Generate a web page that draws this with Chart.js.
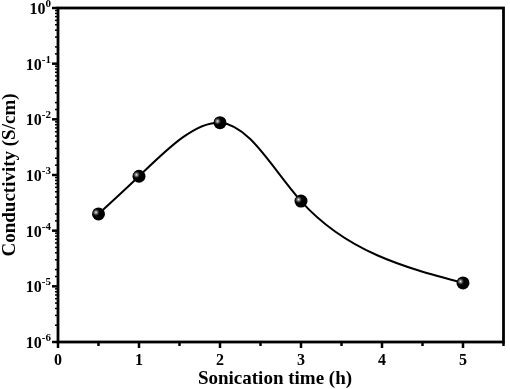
<!DOCTYPE html>
<html>
<head>
<meta charset="utf-8">
<script src="https://cdn.jsdelivr.net/npm/chart.js@4/dist/chart.umd.min.js"></script>
<style>
  html, body { margin: 0; padding: 0; background: #fff; }
  #wrap { width: 510px; height: 389px; }
</style>
</head>
<body>
<div id="wrap"><canvas id="c" width="510" height="389"></canvas></div>
<script>
// sonication time (h) vs conductivity (S/cm)
const times = [0.5, 1, 2, 3, 5];
const conductivity = [2.0e-4, 9.5e-4, 8.7e-3, 3.4e-4, 1.15e-5];
const yTickExponents = [0, -1, -2, -3, -4, -5, -6];
const xTickLabels = ['0', '1', '2', '3', '4', '5'];

const FONT = '"Liberation Serif", "Times New Roman", serif';

// end slopes of a natural cubic spline for each segment
function naturalSlopes(t, v) {
  const n = t.length;
  const h = [], s = [];
  for (let i = 0; i < n - 1; i++) {
    h.push(t[i + 1] - t[i]);
    s.push((v[i + 1] - v[i]) / h[i]);
  }
  const M = new Array(n).fill(0);
  const a = [], b = [], c = [], d = [];
  for (let i = 1; i < n - 1; i++) {
    a.push(h[i - 1]);
    b.push(2 * (h[i - 1] + h[i]));
    c.push(h[i]);
    d.push(6 * (s[i] - s[i - 1]));
  }
  const m = b.length;
  for (let i = 1; i < m; i++) {
    const w = a[i] / b[i - 1];
    b[i] -= w * c[i - 1];
    d[i] -= w * d[i - 1];
  }
  const sol = new Array(m);
  sol[m - 1] = d[m - 1] / b[m - 1];
  for (let i = m - 2; i >= 0; i--) sol[i] = (d[i] - c[i] * sol[i + 1]) / b[i];
  for (let i = 0; i < m; i++) M[i + 1] = sol[i];
  const out = [];
  for (let i = 0; i < n - 1; i++) {
    out.push({
      h: h[i],
      d0: s[i] - h[i] * (2 * M[i] + M[i + 1]) / 6,
      d1: s[i] + h[i] * (M[i] + 2 * M[i + 1]) / 6,
    });
  }
  return out;
}

// parametric spline through the plotted points (the original used a spline connector);
// only the bezier control points of the line element are changed
const splinePlugin = {
  id: 'splinePlugin',
  beforeDatasetsDraw(chart) {
    const meta = chart.getDatasetMeta(0);
    const pts = meta.data;
    const t = [0];
    for (let i = 1; i < pts.length; i++) {
      t.push(t[i - 1] + Math.hypot(pts[i].x - pts[i - 1].x, pts[i].y - pts[i - 1].y));
    }
    const sx = naturalSlopes(t, pts.map((p) => p.x));
    const sy = naturalSlopes(t, pts.map((p) => p.y));
    for (let i = 0; i < pts.length - 1; i++) {
      const h = sx[i].h;
      pts[i].cp2x = pts[i].x + sx[i].d0 * h / 3;
      pts[i].cp2y = pts[i].y + sy[i].d0 * h / 3;
      pts[i + 1].cp1x = pts[i + 1].x - sx[i].d1 * h / 3;
      pts[i + 1].cp1y = pts[i + 1].y - sy[i].d1 * h / 3;
    }
    meta.dataset._pointsUpdated = true;
    meta.dataset._path = undefined;
  },
};

// frame, ticks and tick labels drawn against the chart's own scales
const axesPlugin = {
  id: 'axesPlugin',
  afterDatasetsDraw(chart) {
    const { ctx, chartArea: a, scales } = chart;
    const xs = scales.x;
    const ys = scales.y;
    ctx.save();
    ctx.strokeStyle = '#000';
    ctx.fillStyle = '#000';

    // x ticks, every 0.5 h
    ctx.lineWidth = 2.5;
    xs.ticks.forEach((tk) => {
      const px = xs.getPixelForValue(tk.value);
      const major = Number.isInteger(tk.value);
      ctx.beginPath();
      ctx.moveTo(px, a.bottom);
      ctx.lineTo(px, a.bottom + (major ? 6 : 4));
      ctx.stroke();
    });
    // y ticks on log scale
    ys.ticks.forEach((tk) => {
      const py = ys.getPixelForValue(tk.value);
      const major = Math.abs(Math.log10(tk.value) - Math.round(Math.log10(tk.value))) < 1e-6;
      ctx.lineWidth = major ? 2.5 : 1.5;
      ctx.beginPath();
      ctx.moveTo(a.left, py);
      ctx.lineTo(a.left - (major ? 6 : 3), py);
      ctx.stroke();
    });

    // frame
    ctx.lineWidth = 2.8;
    ctx.strokeRect(a.left, a.top, a.right - a.left, a.bottom - a.top);

    // x labels
    ctx.font = 'bold 16px ' + FONT;
    ctx.textAlign = 'center';
    ctx.textBaseline = 'alphabetic';
    xTickLabels.forEach((lab) => {
      ctx.fillText(lab, xs.getPixelForValue(Number(lab)), a.bottom + 23);
    });

    // y labels, 10 with superscript exponent
    yTickExponents.forEach((e) => {
      const py = ys.getPixelForValue(Math.pow(10, e));
      const exp = String(e);
      ctx.font = 'bold 11px ' + FONT;
      const ew = ctx.measureText(exp).width;
      ctx.textAlign = 'left';
      const right = a.left - 7;
      ctx.fillText(exp, right - ew, py - 1);
      ctx.font = 'bold 16px ' + FONT;
      const bw = ctx.measureText('10').width;
      ctx.fillText('10', right - ew - bw, py + 6);
    });

    // axis titles
    ctx.font = 'bold 19px ' + FONT;
    ctx.textAlign = 'center';
    ctx.textBaseline = 'middle';
    ctx.fillText('Sonication time (h)', 275, 379);
    ctx.translate(10, (a.top + a.bottom) / 2);
    ctx.rotate(-Math.PI / 2);
    ctx.fillText('Conductivity (S/cm)', 0, 0);
    ctx.restore();

    // small highlight on each marker
    const meta = chart.getDatasetMeta(0);
    ctx.save();
    meta.data.forEach((pt) => {
      const g = ctx.createRadialGradient(pt.x - 2.5, pt.y - 1.5, 0, pt.x - 2.5, pt.y - 1.5, 3.5);
      g.addColorStop(0, 'rgba(255,255,255,0.95)');
      g.addColorStop(1, 'rgba(160,160,160,0)');
      ctx.fillStyle = g;
      ctx.beginPath();
      ctx.arc(pt.x - 2.5, pt.y - 1.5, 3.5, 0, Math.PI * 2);
      ctx.fill();
    });
    ctx.restore();
  },
};

new Chart(document.getElementById('c'), {
  type: 'line',
  data: {
    labels: times,
    datasets: [{
      data: times.map((tv, i) => ({ x: tv, y: conductivity[i] })),
      borderColor: '#000',
      borderWidth: 2,
      cubicInterpolationMode: 'monotone',
      pointRadius: 6.5,
      pointBackgroundColor: '#000',
      pointBorderColor: '#000',
      pointBorderWidth: 0,
      fill: false,
    }],
  },
  options: {
    responsive: false,
    animation: false,
    events: [],
    layout: { padding: { top: 8, right: 3, left: 0, bottom: 0 } },
    plugins: {
      legend: { display: false },
      tooltip: { enabled: false },
    },
    scales: {
      x: {
        type: 'linear',
        min: 0,
        max: 5.5,
        ticks: { display: false, stepSize: 0.5, autoSkip: false },
        grid: { display: false, drawTicks: false },
        border: { display: false },
        afterFit(s) { s.height = 47; },
      },
      y: {
        type: 'logarithmic',
        min: 1e-6,
        max: 1,
        ticks: { display: false, autoSkip: false },
        grid: { display: false, drawTicks: false },
        border: { display: false },
        afterFit(s) { s.width = 58; },
      },
    },
  },
  plugins: [splinePlugin, axesPlugin],
});
</script>
</body>
</html>
